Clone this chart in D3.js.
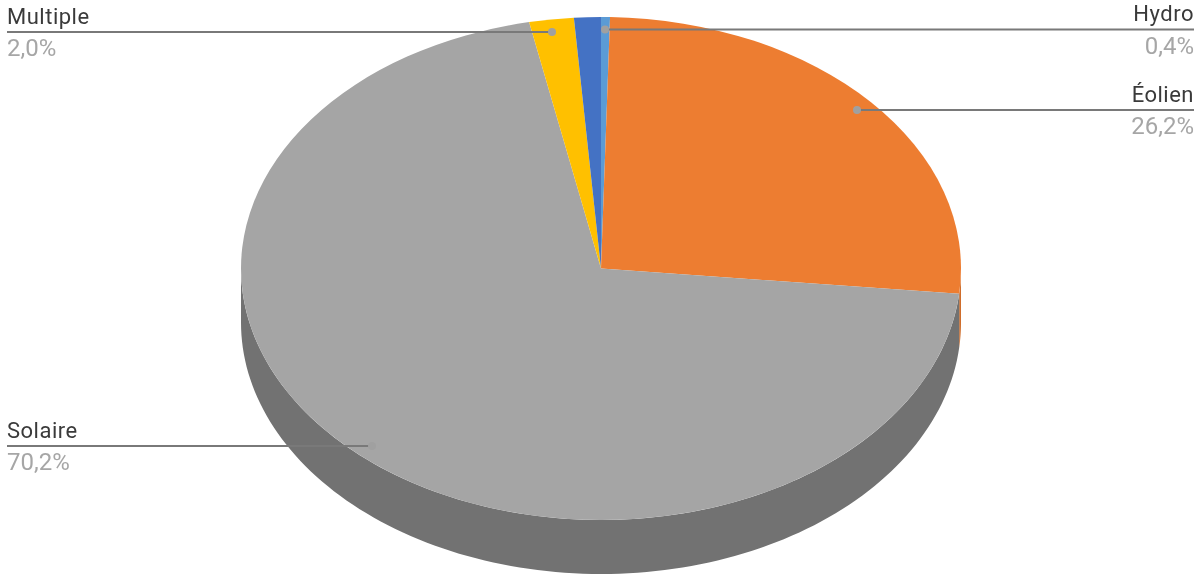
<!DOCTYPE html>
<html>
<head>
 <meta charset="UTF-8">
 <title>Répartition</title>
 <script src="https://d3js.org/d3.v7.min.js"></script>
 <style>
  html, body { margin: 0; padding: 0; background: #fff; }
  svg { display: block; filter: blur(0.5px); }
  text { font-family: Roboto, Lato, sans-serif; font-size: 22px; letter-spacing: 0.5px; }
  text.val { font-size: 24px; letter-spacing: 0; }
 </style>
</head>
<body>
	<script type="text/javascript">
		// clockwise from 12 o'clock, same order as the original pie
		var names = ["Hydro", "Éolien", "Solaire", "Multiple", "Autre"];
		var values = [0.4, 26.2, 70.2, 2.0, 1.2];
		var labels = ["0,4%", "26,2%", "70,2%", "2,0%", ""];
		var colors = ["#5b9bd5", "#ed7d31", "#a5a5a5", "#ffc000", "#4472c4"];
		var sideColors = ["#3f719f", "#cf6d2b", "#727272", "#bf9000", "#335593"];

		var width = 1200, height = 578;
		var cx = 601, cy = 268.5;
		var rx = 360, ry = 251.5, depth = 54;

		var svg = d3.select("body").append("svg")
			.attr("width", width)
			.attr("height", height);

		var pie = d3.pie().sort(null).value(function (d) { return d; });
		var slices = pie(values);
		var arc = d3.arc().innerRadius(0).outerRadius(rx);

		function rimPoint(a, dy) {
			return [cx + rx * Math.sin(a), cy - ry * Math.cos(a) + dy];
		}

		// side wall: only the part of each slice on the front half of the disc
		var line = d3.line();
		slices.forEach(function (s, i) {
			var a0 = Math.max(s.startAngle, Math.PI / 2);
			var a1 = Math.min(s.endAngle, Math.PI * 3 / 2);
			if (a1 <= a0) return;
			var top = [], bottom = [];
			d3.range(0, 121).forEach(function (k) {
				var a = a0 + (a1 - a0) * k / 120;
				top.push(rimPoint(a, 0));
				bottom.unshift(rimPoint(a, depth));
			});
			svg.append("path")
				.attr("d", line(top.concat(bottom)) + "Z")
				.attr("fill", sideColors[i]);
		});

		svg.append("g")
			.attr("transform", "translate(" + cx + "," + cy + ") scale(1," + (ry / rx) + ")")
			.selectAll("path")
			.data(slices)
			.enter()
			.append("path")
			.attr("d", arc)
			.attr("fill", function (d, i) { return colors[i]; });

		// leader lines, placed by hand like in the spreadsheet
		var leaders = [
			{ i: 0, y: 29.5, x0: 605, x1: 1194, anchor: "end" },
			{ i: 1, y: 110, x0: 857, x1: 1194, anchor: "end" },
			{ i: 2, y: 446, x0: 372, x1: 7, anchor: "start" },
			{ i: 3, y: 32, x0: 552, x1: 7, anchor: "start" }
		];

		leaders.forEach(function (l) {
			svg.append("line")
				.attr("x1", l.x0).attr("x2", l.x1)
				.attr("y1", l.y).attr("y2", l.y)
				.attr("stroke", "#797979")
				.attr("stroke-width", 2);
			svg.append("circle")
				.attr("cx", l.x0).attr("cy", l.y)
				.attr("r", 4)
				.attr("fill", "#a0a0a0");
			svg.append("text")
				.attr("x", l.x1).attr("y", l.y - 8.5)
				.attr("text-anchor", l.anchor)
				.attr("fill", "#3a3a3a")
				.text(names[l.i]);
			svg.append("text")
				.attr("class", "val")
				.attr("x", l.x1).attr("y", l.y + 24)
				.attr("text-anchor", l.anchor)
				.attr("fill", "#a6a6a6")
				.text(labels[l.i]);
		});
	</script>
</body>
</html>
